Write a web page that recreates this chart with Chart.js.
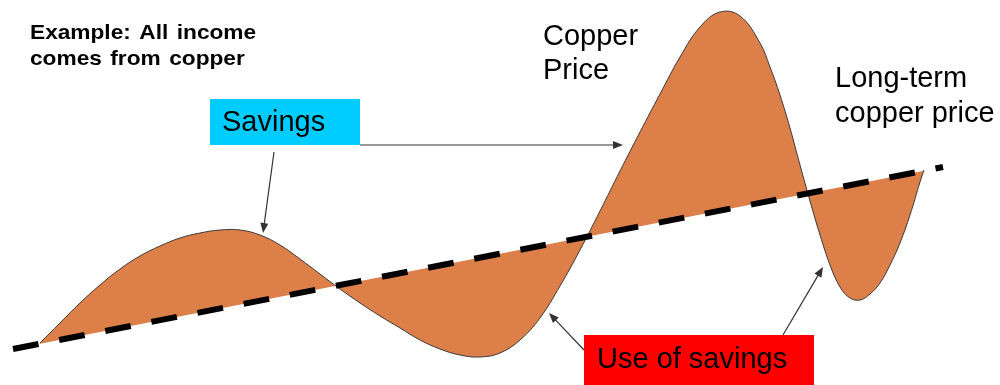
<!DOCTYPE html>
<html>
<head>
<meta charset="utf-8">
<script src="https://cdn.jsdelivr.net/npm/chart.js@4"></script>
<style>
  body { margin: 0; background: #fff; }
  canvas { display: block; }
</style>
</head>
<body>
<canvas id="grafico" width="1000" height="385"></canvas>
<script>
// copper price over time (arbitrary units)
const precoX = [40, 60, 80, 100, 120, 140, 160, 180, 200, 220, 240, 260, 280, 300, 320, 340,
  360, 380, 400, 420, 440, 460, 480, 500, 520, 540, 560, 580, 600, 620, 640, 660, 680, 700,
  720, 740, 760, 770, 780, 790, 800, 810, 820, 830, 840, 850, 860, 870, 880, 890, 900, 910,
  920, 924];
const precoY = [42, 62, 82, 100, 116, 129, 139, 147, 152, 155, 155, 150, 140, 126, 111, 96,
  82, 69, 57, 45, 36, 30, 28, 32, 45, 67, 99, 135, 174, 214, 253, 291, 328, 358,
  373, 369, 342, 318, 290, 257, 220, 184, 150, 120, 98, 87, 85, 91, 102, 120, 142, 170,
  203, 215];

// long-term copper price (trend)
const tendenciaX = [13, 943];
const tendenciaY = [36, 218];

const corArea = "#DC7F48";

// texts, boxes and arrows, in chart units
const textos = [
  { linhas: ["Example: All income", "comes from copper"], x: 30, y: 346, passo: 26, bold: true },
  { linhas: ["Copper", "Price"], x: 543, y: 340, passo: 34 },
  { linhas: ["Long-term", "copper price"], x: 835, y: 298, passo: 35 },
];
const caixas = [
  { texto: "Savings", x0: 210, x1: 360, y0: 286, y1: 240, tx: 222, ty: 254, cor: "#00CCFF" },
  { texto: "Use of savings", x0: 584, x1: 814, y0: 50, y1: -2, tx: 597, ty: 17, cor: "#FF0000" },
];
const setas = [
  [274, 233, 263, 152],
  [360, 240, 623, 240],
  [584, 35, 549, 72],
  [783, 50, 823, 118],
];

function pontos(xs, ys) {
  return xs.map((x, i) => ({ x: x, y: ys[i] }));
}

const anotacoes = {
  id: "anotacoes",
  afterDraw(chart) {
    const ctx = chart.ctx;
    const px = v => chart.scales.x.getPixelForValue(v);
    const py = v => chart.scales.y.getPixelForValue(v);
    ctx.save();

    // arrows
    ctx.strokeStyle = "#333";
    ctx.fillStyle = "#333";
    ctx.lineWidth = 1.2;
    setas.forEach(s => {
      const x0 = px(s[0]), y0 = py(s[1]), x1 = px(s[2]), y1 = py(s[3]);
      const ang = Math.atan2(y1 - y0, x1 - x0);
      ctx.beginPath();
      ctx.moveTo(x0, y0);
      ctx.lineTo(x1 - 8 * Math.cos(ang), y1 - 8 * Math.sin(ang));
      ctx.stroke();
      ctx.beginPath();
      ctx.moveTo(x1, y1);
      ctx.lineTo(x1 - 10 * Math.cos(ang) + 4 * Math.sin(ang), y1 - 10 * Math.sin(ang) - 4 * Math.cos(ang));
      ctx.lineTo(x1 - 10 * Math.cos(ang) - 4 * Math.sin(ang), y1 - 10 * Math.sin(ang) + 4 * Math.cos(ang));
      ctx.closePath();
      ctx.fill();
    });

    // boxes
    ctx.textBaseline = "alphabetic";
    ctx.font = "29px 'Liberation Sans', Arial, sans-serif";
    caixas.forEach(c => {
      ctx.fillStyle = c.cor;
      ctx.fillRect(px(c.x0), py(c.y0), px(c.x1) - px(c.x0), py(c.y1) - py(c.y0));
      ctx.fillStyle = "#000";
      ctx.fillText(c.texto, px(c.tx), py(c.ty));
    });

    // labels
    ctx.fillStyle = "#000";
    textos.forEach(t => {
      ctx.save();
      if (t.bold) {
        // the heading is set a little wider than plain bold
        ctx.font = "bold 21px 'Liberation Sans', Arial, sans-serif";
        ctx.wordSpacing = "2px";
        ctx.translate(px(t.x), 0);
        ctx.scale(1.08, 1);
        t.linhas.forEach((l, i) => ctx.fillText(l, 0, py(t.y) + i * t.passo));
      } else {
        ctx.font = "29px 'Liberation Sans', Arial, sans-serif";
        t.linhas.forEach((l, i) => ctx.fillText(l, px(t.x), py(t.y) + i * t.passo));
      }
      ctx.restore();
    });
    ctx.restore();
  },
};

const grafico = new Chart(document.getElementById("grafico"), {
  type: "line",
  data: {
    datasets: [
      {
        label: "Long-term copper price",
        data: pontos(tendenciaX, tendenciaY),
        borderColor: "#000",
        borderWidth: 6,
        borderDash: [26, 21],
        borderCapStyle: "butt",
        pointRadius: 0,
        fill: false,
      },
      {
        label: "Copper Price",
        data: pontos(precoX, precoY),
        borderColor: "#3a3a3a",
        borderWidth: 1,
        backgroundColor: corArea,
        tension: 0.4,
        pointRadius: 0,
        fill: { target: 0, above: corArea, below: corArea },
      },
    ],
  },
  options: {
    responsive: false,
    animation: false,
    events: [],
    layout: { padding: 0 },
    scales: {
      x: { type: "linear", min: 0, max: 1000, display: false },
      y: { type: "linear", min: 0, max: 385, display: false },
    },
    plugins: {
      legend: { display: false },
      tooltip: { enabled: false },
    },
  },
  plugins: [anotacoes],
});
</script>
</body>
</html>
